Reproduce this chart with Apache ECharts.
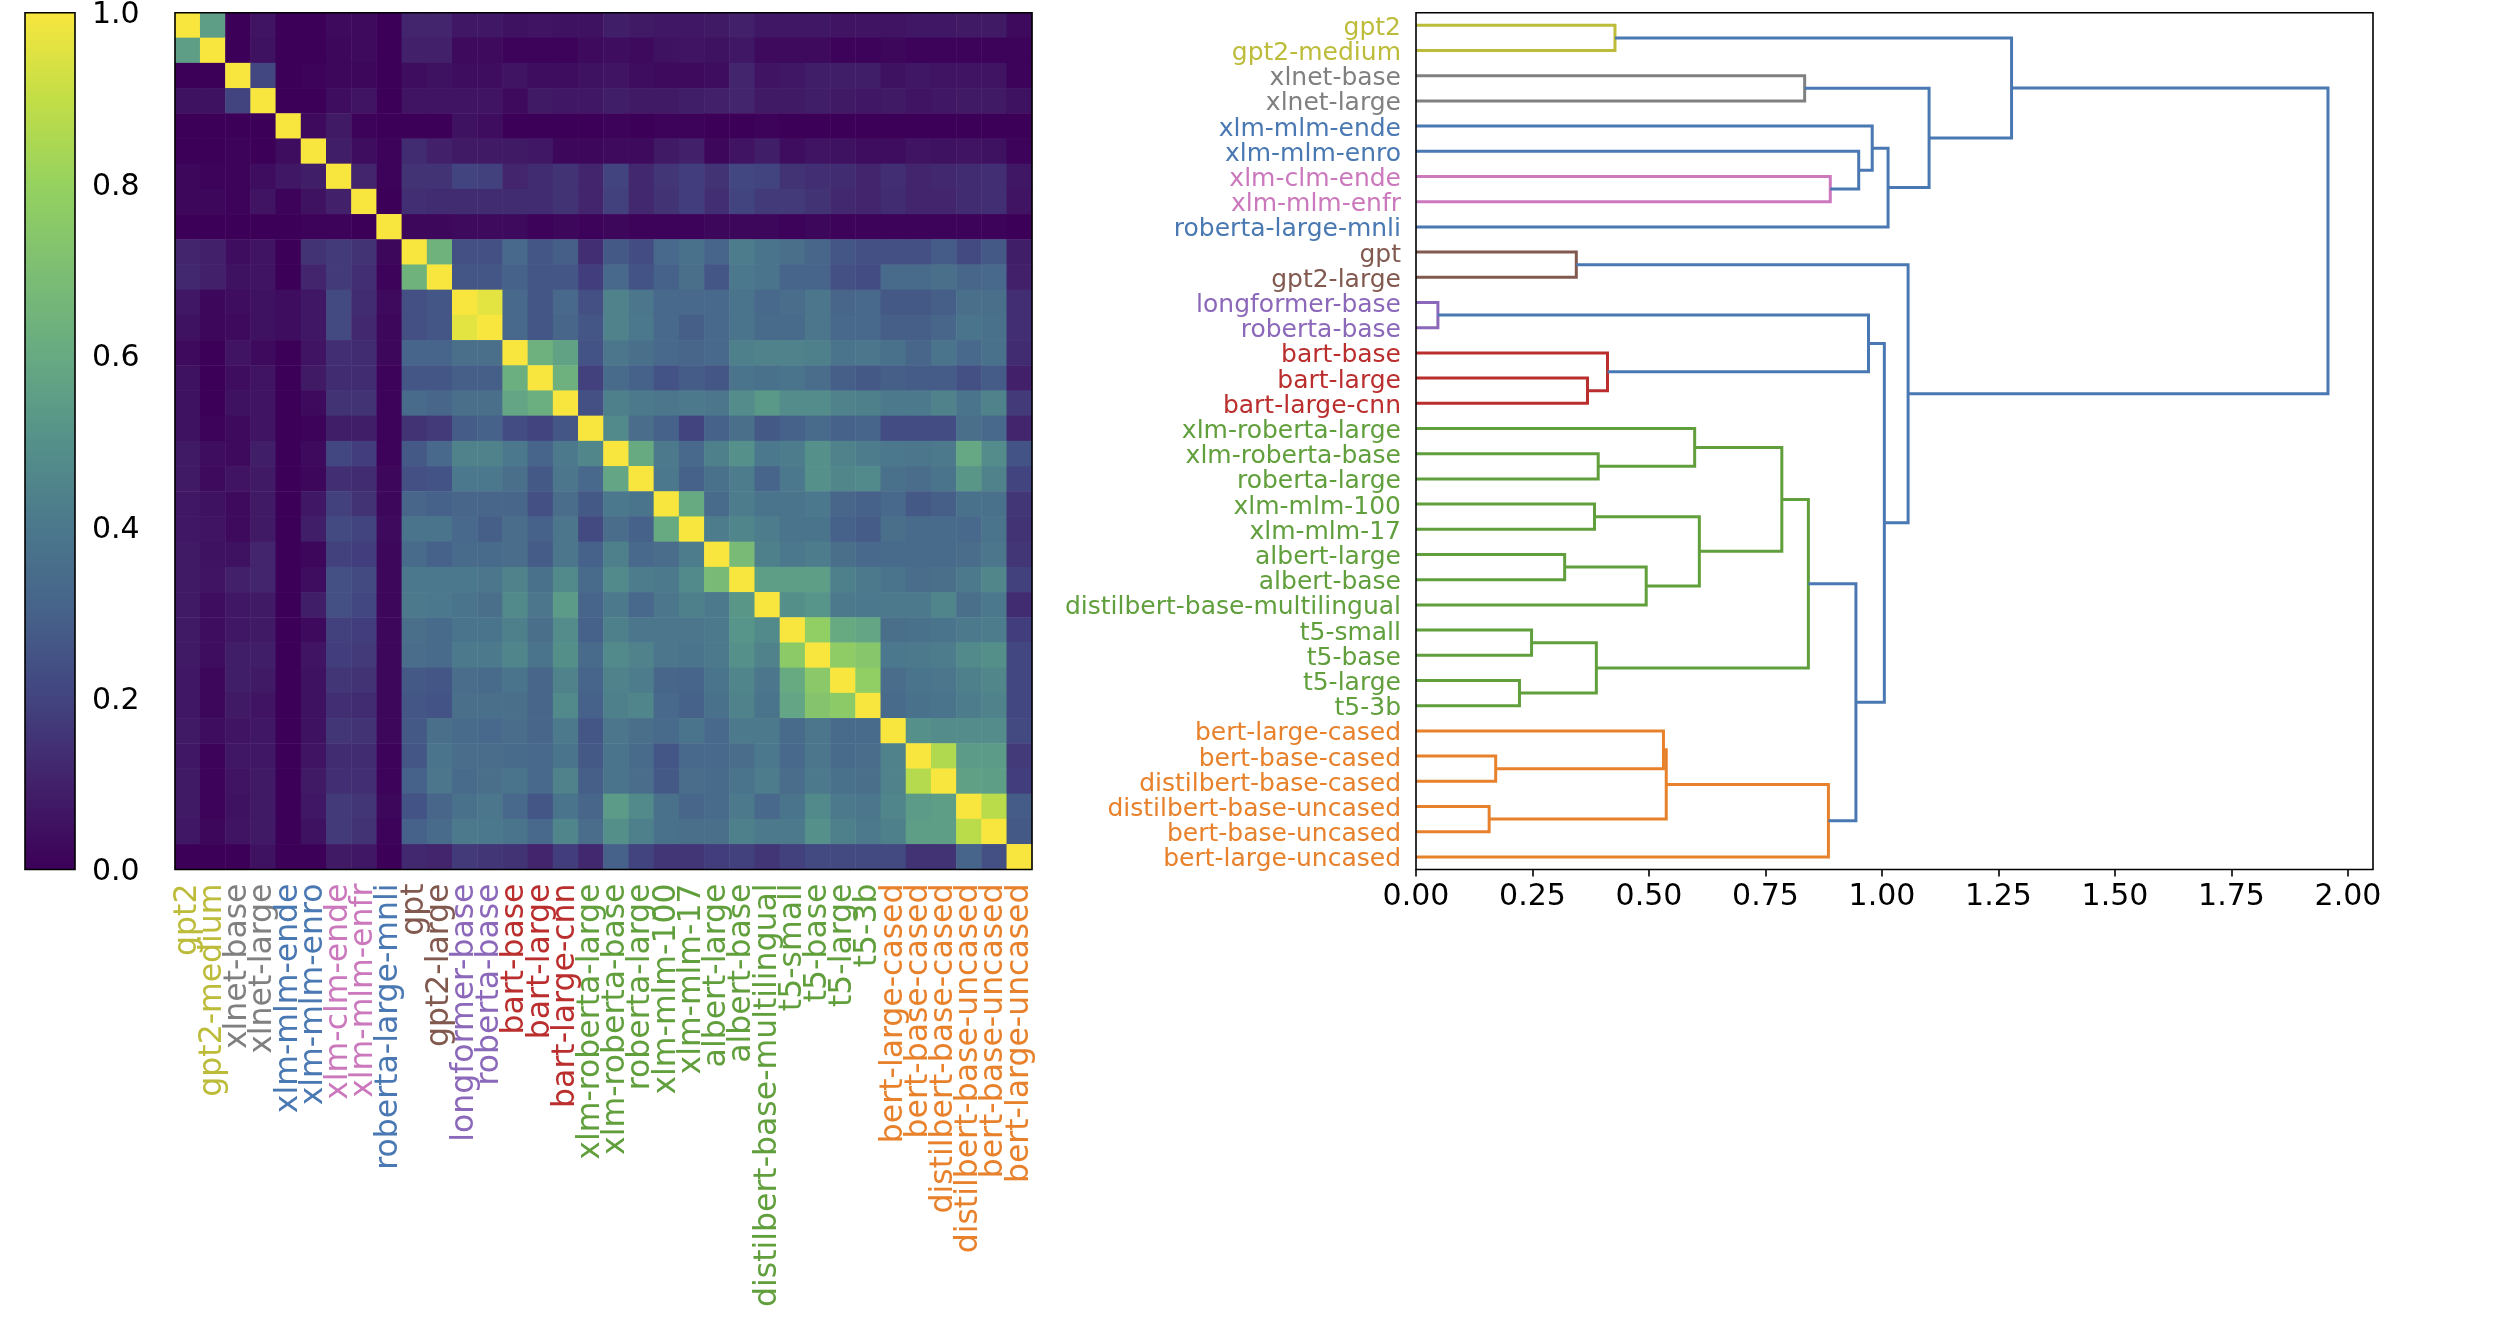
<!DOCTYPE html>
<html>
<head>
<meta charset="utf-8">
<style>html,body{margin:0;padding:0;background:#fff}#c{width:2497px;height:1318px}</style>
<script src="https://cdn.jsdelivr.net/npm/echarts@6/dist/echarts.min.js"></script>
</head>
<body>
<div id="c"></div>
<script>
const names = ['gpt2','gpt2-medium','xlnet-base','xlnet-large','xlm-mlm-ende','xlm-mlm-enro','xlm-clm-ende','xlm-mlm-enfr','roberta-large-mnli','gpt','gpt2-large','longformer-base','roberta-base','bart-base','bart-large','bart-large-cnn','xlm-roberta-large','xlm-roberta-base','roberta-large','xlm-mlm-100','xlm-mlm-17','albert-large','albert-base','distilbert-base-multilingual','t5-small','t5-base','t5-large','t5-3b','bert-large-cased','bert-base-cased','distilbert-base-cased','distilbert-base-uncased','bert-base-uncased','bert-large-uncased'];
const palette = {olive:'#bdbc3a',gray:'#808080',blue:'#4a78b2',pink:'#cb78bd',brown:'#82594f',purple:'#8c68ba',red:'#bb2e2e',green:'#609f3c',orange:'#e8812b'};
const labelColors = ['olive','olive','gray','gray','blue','blue','pink','pink','blue','brown','brown','purple','purple','red','red','red','green','green','green','green','green','green','green','green','green','green','green','green','orange','orange','orange','orange','orange','orange'];
// similarity, in hundredths, row by row
const similarity = [
[100,55,0,6,0,0,3,3,0,11,11,7,7,5,6,5,5,9,8,7,7,8,10,7,7,7,6,6,6,7,7,8,8,3],
[55,100,0,5,0,0,2,3,0,10,10,3,3,1,1,1,3,4,3,5,6,5,7,3,3,3,1,1,2,1,1,1,1,1],
[0,0,100,21,0,1,2,2,0,4,5,4,4,6,4,4,5,6,4,3,3,4,11,6,7,9,9,9,5,7,6,6,6,1],
[5,5,20,100,0,0,4,6,0,6,6,6,6,3,8,7,7,9,8,8,9,10,11,8,8,9,8,7,8,6,7,8,8,5],
[0,0,0,0,100,3,8,1,0,0,0,5,4,0,0,0,0,1,0,1,1,0,0,1,0,0,0,0,0,0,0,0,0,0],
[0,0,1,0,4,100,9,4,1,13,10,8,8,8,7,2,2,3,3,8,10,2,6,9,4,6,5,4,4,6,5,6,5,1],
[2,1,1,4,7,9,100,11,1,15,15,20,19,11,13,15,11,20,12,16,18,15,21,20,15,14,13,11,14,11,12,13,14,7],
[2,2,1,6,1,5,10,100,0,14,13,13,13,13,13,15,11,19,12,15,18,14,20,17,17,15,12,11,13,11,11,13,14,6],
[0,0,0,0,0,1,1,0,100,2,2,3,3,3,1,2,1,2,1,1,1,2,2,2,1,2,1,1,1,1,1,1,1,0],
[11,10,4,6,0,15,17,15,2,100,64,24,24,33,26,29,14,27,23,33,37,31,42,38,36,32,26,24,24,24,28,22,27,9],
[12,10,5,6,0,11,17,14,1,64,100,26,26,30,26,26,18,33,25,30,36,26,40,38,31,31,24,23,34,34,36,32,33,10],
[7,2,4,5,4,7,22,13,3,24,26,100,96,33,26,33,24,44,39,33,33,33,38,33,35,39,32,33,27,27,29,36,36,14],
[5,2,3,5,4,7,22,12,2,24,26,96,100,33,26,32,26,44,40,33,29,33,38,34,34,39,33,33,29,29,32,38,37,14],
[3,0,6,3,0,6,14,13,2,31,31,36,36,100,63,57,25,39,36,33,32,33,43,44,44,43,38,39,37,32,38,33,37,13],
[5,0,4,6,0,8,13,13,1,26,26,29,29,62,100,63,19,34,30,25,28,26,38,37,38,35,29,27,29,28,28,24,28,10],
[5,0,5,6,0,3,15,15,1,34,32,36,36,58,62,100,24,43,41,39,41,39,48,53,48,48,44,43,41,41,44,38,44,17],
[5,1,3,6,0,1,9,9,1,15,17,28,30,23,20,26,100,47,35,30,20,30,36,27,30,34,30,31,23,23,23,36,33,11],
[8,4,3,9,0,3,21,18,1,27,33,44,44,40,31,41,46,100,60,41,33,43,50,40,42,50,44,42,40,39,41,59,48,25],
[8,3,6,8,0,2,14,13,2,24,25,40,40,36,27,39,33,58,100,40,30,37,42,31,40,50,46,47,37,35,38,52,44,20],
[7,5,3,8,0,7,19,15,2,32,30,32,32,32,24,35,27,40,38,100,60,34,42,38,38,40,32,30,33,27,29,37,37,16],
[7,6,3,8,0,9,22,20,3,38,38,33,29,35,30,39,22,35,30,60,100,42,45,42,38,38,30,28,36,34,34,33,38,15],
[8,5,5,11,0,2,19,18,2,34,30,34,34,35,28,39,30,43,33,35,42,100,68,43,40,42,36,33,34,34,34,35,39,16],
[8,6,10,11,0,4,24,22,2,40,40,40,39,44,37,47,34,47,42,41,47,68,100,55,55,55,43,41,38,35,36,41,46,19],
[8,4,7,8,0,9,24,21,2,41,40,38,36,47,39,54,31,41,33,39,43,41,52,100,49,51,41,40,41,41,45,36,40,13],
[8,4,7,8,0,3,19,18,2,36,34,38,38,43,36,48,30,43,39,39,39,41,51,47,100,78,60,58,36,37,38,41,42,18],
[8,4,9,9,0,6,18,17,2,35,34,41,41,45,38,49,34,47,44,39,38,41,50,44,76,100,77,74,40,41,42,47,49,21],
[7,2,9,8,0,5,16,15,2,27,26,35,34,38,32,44,31,44,42,32,31,38,45,39,60,75,100,78,35,38,39,43,46,21],
[7,2,8,6,0,5,14,13,2,26,25,36,36,36,32,47,30,43,45,33,30,37,44,38,58,73,76,100,34,37,38,42,44,21],
[8,4,6,7,0,5,16,15,2,27,36,34,33,35,32,41,26,39,36,34,38,33,41,41,34,39,34,34,100,50,48,48,48,22],
[7,1,7,7,0,6,13,13,1,26,38,35,35,34,33,38,27,38,34,26,33,33,35,40,33,39,34,35,44,100,86,54,54,17],
[8,1,6,8,0,8,14,14,1,30,39,34,36,38,33,44,29,38,35,27,35,34,38,42,35,41,37,36,44,87,100,56,55,18],
[8,1,5,8,0,7,17,16,2,25,32,37,39,33,26,38,32,54,47,37,32,34,41,33,38,47,41,39,45,54,55,100,88,28],
[7,2,6,8,0,5,17,15,1,30,34,41,40,38,33,45,35,49,43,37,36,36,43,41,41,50,43,41,43,55,55,88,100,27],
[0,0,0,5,0,0,8,7,0,12,11,17,16,15,11,18,12,30,20,16,16,18,19,16,19,22,22,22,22,15,15,31,24,100]
];
// merges: [childA, childB, distance, colour]; ids >= 34 are earlier merges
const merges = [
[0,1,0.427,'olive'],[2,3,0.834,'gray'],[6,7,0.889,'pink'],[5,36,0.95,'blue'],[4,37,0.979,'blue'],[38,8,1.013,'blue'],[35,39,1.101,'blue'],[34,40,1.278,'blue'],
[9,10,0.344,'brown'],[11,12,0.047,'purple'],[14,15,0.368,'red'],[13,44,0.411,'red'],[43,45,0.971,'blue'],
[17,18,0.391,'green'],[16,47,0.598,'green'],[19,20,0.383,'green'],[21,22,0.319,'green'],[50,23,0.494,'green'],[49,51,0.608,'green'],[48,52,0.785,'green'],
[24,25,0.248,'green'],[26,27,0.222,'green'],[54,55,0.387,'green'],[53,56,0.842,'green'],
[29,30,0.171,'orange'],[28,58,0.531,'orange'],[31,32,0.157,'orange'],[59,60,0.537,'orange'],[61,33,0.885,'orange'],
[57,62,0.944,'blue'],[46,63,1.005,'blue'],[42,64,1.056,'blue'],[41,65,1.957,'blue']
];
const colorbarTicks = [0,0.2,0.4,0.6,0.8,1];
const distanceTicks = [0,0.25,0.5,0.75,1,1.25,1.5,1.75,2];
const cmap = ['#3c0058','#42216a','#424480','#46628a','#4b788c','#55918a','#67aa82','#7dbe73','#96d25f','#c3de46','#f8e63e'];

const FONT = 'DejaVu Sans';
const nodeY = names.map((_, i) => i + 0.5);
const nodeH = names.map(() => 0);
const linkSeries = merges.map(([a, b, h, c]) => {
  const ya = nodeY[a], yb = nodeY[b];
  nodeY.push((ya + yb) / 2); nodeH.push(h);
  return {
    type: 'line', xAxisIndex: 2, yAxisIndex: 3, silent: true, showSymbol: false, symbol: 'none', animation: false, z: 3,
    lineStyle: {color: palette[c], width: 3, cap: 'butt', join: 'miter'},
    data: [[nodeH[a], ya], [h, ya], [h, yb], [nodeH[b], yb]]
  };
});
const heatData = [];
similarity.forEach((row, y) => row.forEach((v, x) => heatData.push([x, y, v / 100])));
const coloured = names.map((n, i) => ({value: n, textStyle: {color: palette[labelColors[i]]}}));
const colouredLeaves = names.map((n, i) => ({value: n, textStyle: {color: palette[labelColors[i]], verticalAlign: 'top', lineHeight: 6}}));
const frame = {show: true, borderColor: '#000', borderWidth: 1.6, z: 10, backgroundColor: 'transparent'};
const tickLine = {lineStyle: {color: '#000', width: 1.6}, length: 7};

const chart = echarts.init(document.getElementById('c'), null, {renderer: 'canvas', width: 2497, height: 1318});
chart.setOption({
  animation: false,
  backgroundColor: '#fff',
  textStyle: {fontFamily: FONT},
  grid: [
    {left: 25, top: 12.7, width: 50, height: 856.8, ...frame},
    {left: 175, top: 12.7, width: 857, height: 856.8, ...frame},
    {left: 1416, top: 12.7, width: 957, height: 856.8, ...frame}
  ],
  visualMap: {show: false, min: 0, max: 1, seriesIndex: 1, dimension: 2, inRange: {color: cmap}},
  xAxis: [
    {gridIndex: 0, type: 'category', data: ['scale'], show: false},
    {gridIndex: 1, type: 'category', data: coloured, position: 'bottom',
      axisLine: {show: false},
      axisTick: {...tickLine, alignWithLabel: true, interval: 0},
      axisLabel: {rotate: 90, interval: 0, fontSize: 31.5, fontFamily: FONT, margin: 14},
      splitLine: {show: false}},
    {gridIndex: 2, type: 'value', min: 0, max: 2.0536, position: 'bottom',
      axisLine: {show: false, onZero: false},
      axisTick: {...tickLine, customValues: distanceTicks},
      axisLabel: {fontSize: 30, fontFamily: FONT, color: '#000', margin: 13, customValues: distanceTicks, formatter: v => v.toFixed(2)},
      splitLine: {show: false}}
  ],
  yAxis: [
    {gridIndex: 0, type: 'value', min: 0, max: 1, interval: 0.2, position: 'right',
      axisLine: {show: false, onZero: false},
      axisTick: {...tickLine, customValues: colorbarTicks},
      axisLabel: {fontSize: 30, fontFamily: FONT, color: '#000', margin: 17, verticalAlign: 'top', lineHeight: 6, customValues: colorbarTicks, formatter: v => v.toFixed(1)},
      splitLine: {show: false}},
    {gridIndex: 1, type: 'category', data: names, inverse: true, axisLine: {show: false}, axisTick: {show: false}, axisLabel: {show: false}, splitLine: {show: false}},
    {gridIndex: 2, type: 'category', data: colouredLeaves, inverse: true, position: 'left',
      axisLine: {show: false}, axisTick: {show: false},
      axisLabel: {interval: 0, fontSize: 25, fontFamily: FONT, margin: 15, align: 'right', verticalAlign: 'top', lineHeight: 6},
      splitLine: {show: false}},
    {gridIndex: 2, type: 'value', min: 0, max: 34, inverse: true, position: 'right', show: false}
  ],
  series: [
    {type: 'bar', xAxisIndex: 0, yAxisIndex: 0, barWidth: '100%', silent: true, animation: false, data: [1],
      itemStyle: {color: {type: 'linear', x: 0, y: 1, x2: 0, y2: 0, colorStops: cmap.map((c, i) => ({offset: i / (cmap.length - 1), color: c}))}}},
    {type: 'heatmap', xAxisIndex: 1, yAxisIndex: 1, data: heatData, silent: true, animation: false, progressive: 0},
    ...linkSeries
  ]
});
</script>
</body>
</html>
